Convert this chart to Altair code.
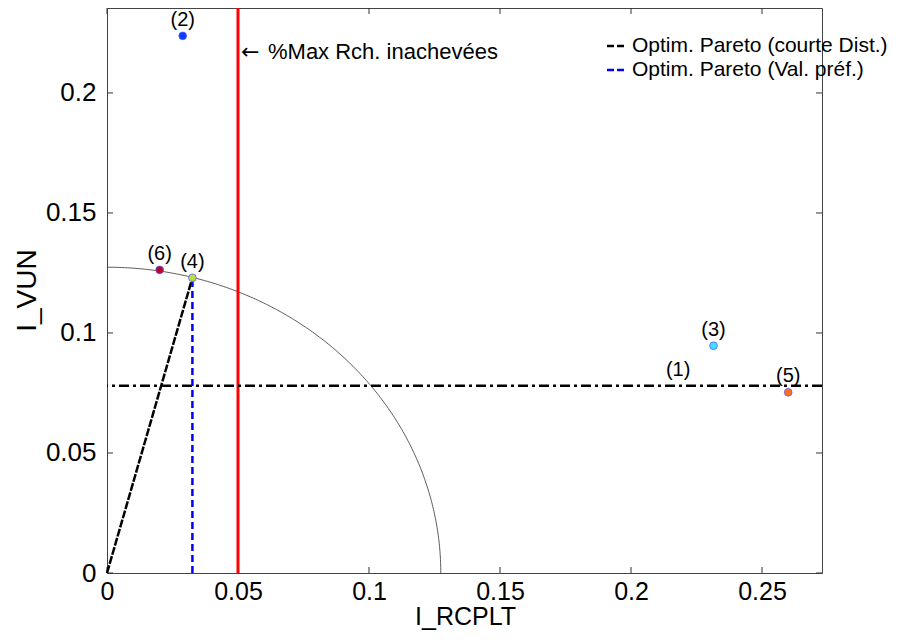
import altair as alt
import pandas as pd

# ---- data ----
pt_labels = ["(1)", "(2)", "(3)", "(4)", "(5)", "(6)"]
pt_x = [0.218, 0.0289, 0.2315, 0.0326, 0.2600, 0.0201]
pt_y = [0.078, 0.2238, 0.0947, 0.1230, 0.0753, 0.1263]
pt_colors = ["transparent", "#0a3cff", "#40e0ff", "#b8e040", "#ff7020", "#c00020"]

x_ticks = [0, 0.05, 0.1, 0.15, 0.2, 0.25]
y_ticks = [0, 0.05, 0.1, 0.15, 0.2]
x_max = 0.2729
y_max = 0.2354

radius = 0.1274          # distance of the Pareto point (4) to the origin
threshold_x = 0.05       # %Max Rch. inachevées
ref_y = 0.078            # horizontal dash-dot level of point (1)

legend_labels = ["Optim. Pareto (courte Dist.)", "Optim. Pareto (Val. préf.)"]
legend_colors = ["#000000", "#0000ff"]

W, H = 715, 565
FONT = "Liberation Sans"

pts = pd.DataFrame({"lab": pt_labels, "x": pt_x, "y": pt_y, "c": pt_colors})
xs = alt.Scale(domain=[0, x_max], nice=False, zero=False)
ys = alt.Scale(domain=[0, y_max], nice=False, zero=False)

X = alt.X("x:Q", scale=xs, axis=alt.Axis(
    values=x_ticks, format="~g", title="I_RCPLT", grid=False, ticks=False, domain=False,
    labelFont=FONT, labelFontSize=25, labelColor="black", labelPadding=6,
    labelFlush=False, labelOverlap=False,
    titleFont=FONT, titleFontSize=25, titleFontWeight="normal", titleColor="black",
    titleX=358, titleY=43, titleBaseline="middle", titleAlign="center"))
Y = alt.Y("y:Q", scale=ys, axis=alt.Axis(
    values=y_ticks, format="~g", title="I_VUN", grid=False, ticks=False, domain=False,
    labelFont=FONT, labelFontSize=26, labelColor="black", labelPadding=11,
    labelFlush=False, labelOverlap=False,
    titleFont=FONT, titleFontSize=28, titleFontWeight="normal", titleColor="black",
    titleX=-80, titleY=282, titleAngle=270, titleBaseline="middle", titleAlign="center"))

# quarter circle of radius = |OP4|
arc = alt.Chart(alt.sequence(0, 90.5, 0.5, as_="t")).transform_calculate(
    x=f"{radius}*cos(datum.t*PI/180)", y=f"{radius}*sin(datum.t*PI/180)"
).mark_line(color="#333333", strokeWidth=0.8).encode(
    x=X, y=Y, order="t:Q")

p4 = pts[pts.lab == "(4)"].iloc[0]
seg_df = pd.DataFrame({"x": [0, p4.x], "y": [0, p4.y]})
seg = alt.Chart(seg_df).mark_line(color="black", strokeWidth=2.5, strokeDash=[8, 1.5]).encode(
    x=alt.X("x:Q", scale=xs), y=alt.Y("y:Q", scale=ys))

vdf = pd.DataFrame({"x": [p4.x], "y": [0], "y2": [p4.y]})
vline = alt.Chart(vdf).mark_rule(color="#0000ff", strokeWidth=2.5, strokeDash=[7, 4]).encode(
    x=alt.X("x:Q", scale=xs), y=alt.Y("y:Q", scale=ys), y2="y2:Q")

red = alt.Chart(pd.DataFrame({"x": [threshold_x]})).mark_rule(color="#ff0000", strokeWidth=3).encode(
    x=alt.X("x:Q", scale=xs))

hdf = pd.DataFrame({"y": [ref_y]})
hline = alt.Chart(hdf).mark_rule(color="black", strokeWidth=2.5, strokeDash=[10, 4, 3, 4]).encode(
    y=alt.Y("y:Q", scale=ys))

points = alt.Chart(pts).mark_point(filled=True, size=60, opacity=1, strokeWidth=0.8).encode(
    x=alt.X("x:Q", scale=xs), y=alt.Y("y:Q", scale=ys),
    fill=alt.Fill("c:N", scale=None),
    stroke=alt.condition("datum.c == 'transparent'", alt.value("transparent"), alt.value("#5a5aff")))

labels = alt.Chart(pts).mark_text(font=FONT, fontSize=20, dy=-16, baseline="middle", color="black").encode(
    x=alt.X("x:Q", scale=xs), y=alt.Y("y:Q", scale=ys), text="lab:N")

adf = pd.DataFrame({"x": [threshold_x], "a": ["\u2190"], "t": ["%Max Rch. inachevées"]})
arrow = alt.Chart(adf).mark_text(
    font="DejaVu Sans", fontSize=22, align="left", baseline="middle", dx=3, color="black").encode(
    x=alt.X("x:Q", scale=xs), y=alt.value(44), text="a:N")
annot = alt.Chart(adf).mark_text(
    font=FONT, fontSize=22, align="left", baseline="middle", dx=30, color="black").encode(
    x=alt.X("x:Q", scale=xs), y=alt.value(44), text="t:N")

# ticks inside (MATLAB box)
xt = pd.DataFrame({"x": x_ticks})
yt = pd.DataFrame({"y": y_ticks})
tk = dict(color="#333333", strokeWidth=1)
tb = alt.Chart(xt).mark_rule(**tk).encode(x=alt.X("x:Q", scale=xs), y=alt.value(H), y2=alt.value(H - 6))
tt = alt.Chart(xt).mark_rule(**tk).encode(x=alt.X("x:Q", scale=xs), y=alt.value(0), y2=alt.value(6))
tl = alt.Chart(yt).mark_rule(**tk).encode(y=alt.Y("y:Q", scale=ys), x=alt.value(0), x2=alt.value(6))
tr = alt.Chart(yt).mark_rule(**tk).encode(y=alt.Y("y:Q", scale=ys), x=alt.value(W), x2=alt.value(W - 6))

# legend
ldf = pd.DataFrame({"lab": legend_labels, "c": legend_colors, "i": [0, 1]})
leg_line = alt.Chart(ldf).transform_calculate(py="38 + 24*datum.i").mark_rule(
    strokeWidth=2.5, strokeDash=[7, 3]).encode(
    x=alt.value(500), x2=alt.value(518), y=alt.Y("py:Q", scale=None),
    color=alt.Color("c:N", scale=None))
leg_text = alt.Chart(ldf).transform_calculate(py="38 + 24*datum.i").mark_text(
    font=FONT, fontSize=21, align="left", baseline="middle", color="black").encode(
    x=alt.value(525), y=alt.Y("py:Q", scale=None), text="lab:N")

base = alt.Chart(pts).mark_point(opacity=0).encode(x=X, y=Y)

chart = alt.layer(base, arc, tb, tt, tl, tr, red, hline, seg, vline, points, labels, arrow, annot,
                  leg_line, leg_text).properties(
    width=W, height=H,
    padding={"left": 99, "top": 0, "right": 72, "bottom": 57},
    autosize=alt.AutoSizeParams(type="none"),
    background="white",
).configure_view(stroke="#444444", strokeWidth=1)

chart.save("out.html", embed_options={"renderer": "svg", "actions": False})
